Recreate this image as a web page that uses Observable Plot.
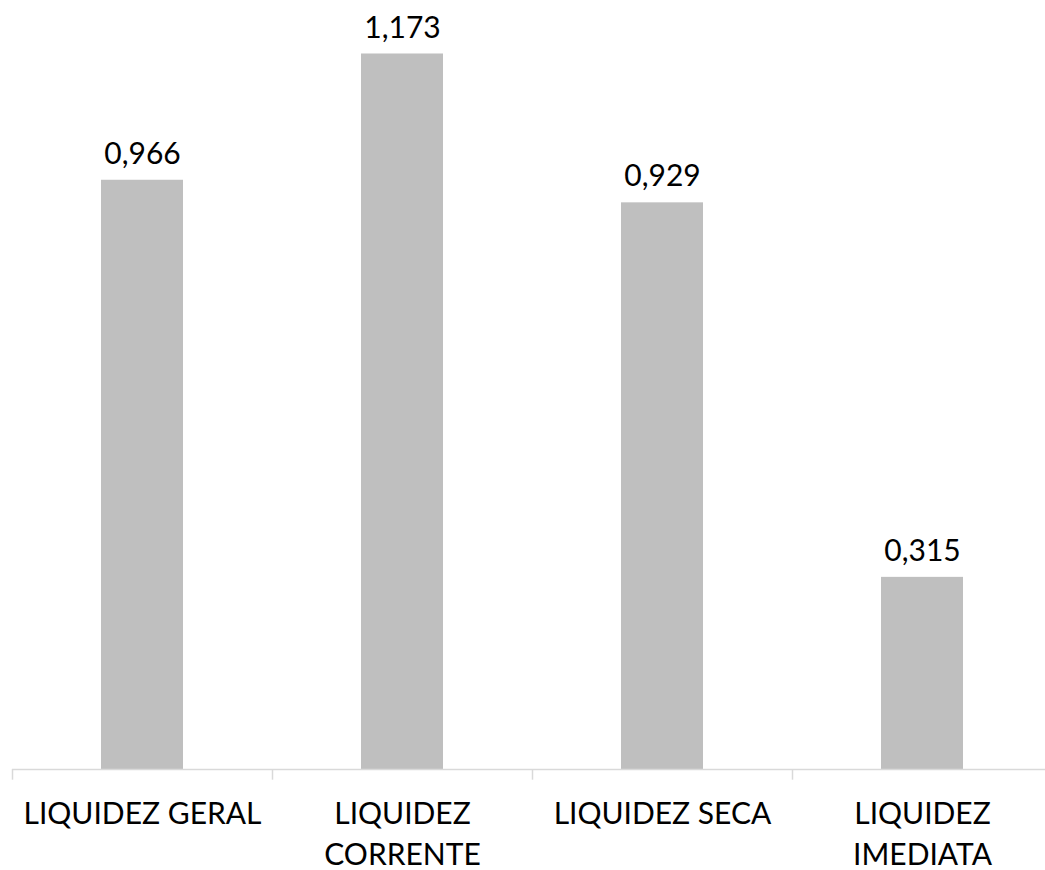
<!DOCTYPE html>
<html><head><meta charset="utf-8">
<script src="https://cdn.jsdelivr.net/npm/d3@7"></script>
<script src="https://cdn.jsdelivr.net/npm/@observablehq/plot@0.6"></script>
<style>body{margin:0;background:#fff;overflow:hidden}</style>
</head><body><div id="chart"></div>
<script>
const categories = ["LIQUIDEZ GERAL", "LIQUIDEZ\nCORRENTE", "LIQUIDEZ SECA", "LIQUIDEZ\nIMEDIATA"];
const values = [0.966, 1.173, 0.929, 0.315];
const data = categories.map((c, i) => ({cat: c, value: values[i]}));
const fmt = v => v.toFixed(3).replace(".", ",");
const font = "Lato, 'Open Sans', sans-serif";
const tickLen = -0.0175;
const chart = Plot.plot({
  width: 1045, height: 870,
  marginLeft: 12, marginRight: -7, marginTop: 0, marginBottom: 101,
  style: {fontFamily: font, background: "#fff"},
  x: {domain: categories, paddingInner: 0.685, paddingOuter: 0.3425, align: 0.5, axis: null},
  y: {domain: [0, 1.2607], axis: null},
  marks: [
    Plot.barY(data, {x: "cat", y: "value", fill: "#bfbfbf"}),
    Plot.ruleY([0], {stroke: "#d9d9d9", strokeWidth: 1.5}),
    Plot.ruleX(categories, {x: d => d, dx: -130, y1: 0, y2: tickLen, stroke: "#d9d9d9", strokeWidth: 1.5}),
    Plot.ruleX(categories.slice(-1), {x: d => d, dx: 130, y1: 0, y2: tickLen, stroke: "#d9d9d9", strokeWidth: 1.5}),
    Plot.text(data, {x: "cat", y: "value", text: d => fmt(d.value), dy: -26, fontSize: 30, fill: "#000", fontFamily: font}),
    Plot.text(categories, {x: d => d, y: 0, text: d => d, dy: 25, lineAnchor: "top", lineHeight: 1.38, fontSize: 30, fill: "#000", fontFamily: font})
  ]
});
document.getElementById("chart").appendChild(chart);
</script></body></html>
